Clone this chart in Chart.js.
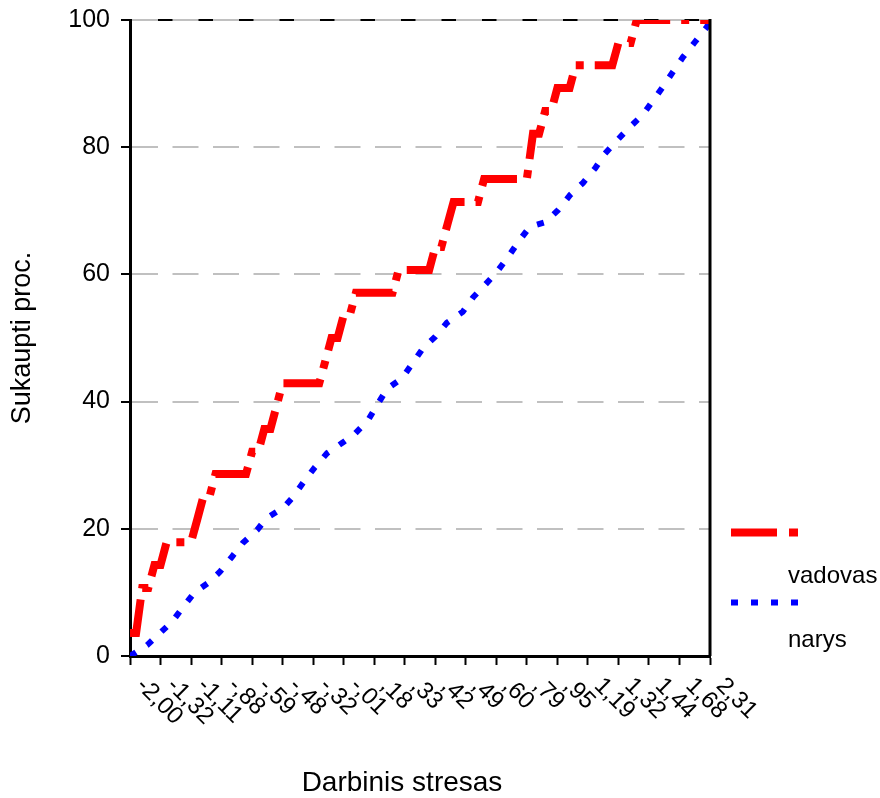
<!DOCTYPE html>
<html><head><meta charset="utf-8">
<script src="https://cdn.jsdelivr.net/npm/chart.js@4"></script>
<style>html,body{margin:0;padding:0;background:#fff}#wrap{width:880px;height:798px}</style>
</head><body><div id="wrap"><canvas id="c" width="880" height="798"></canvas></div>
<script>
// x tick labels (Darbinis stresas), one per 5 category steps
const tickLabels = ['-2,00','-1,32','-1,11','-,88','-,59','-,48','-,32','-,01',',18',',33',',42',',49',',60',',79',',95','1,19','1,32','1,44','1,68','2,31'];
const seriesNames = ['vadovas', 'narys'];
const xTitle = 'Darbinis stresas';
const yTitle = 'Sukaupti proc.';

// vadovas: cumulative percent (category position, value)
const vadovasX = [0,1,2,3,4,5,6,10,11,12,13,14,19,20,21,22,23,24,25,31,32,33,34,35,36,37,43,44,49,50,51,52,53,57,58,65,66,67,68,69,70,72,73,79,80,82,83,95];
const vadovasY = [3.6,3.6,10.7,10.7,14.3,14.3,17.9,17.9,21.4,25,25,28.6,28.6,32.1,32.1,35.7,35.7,39.3,42.9,42.9,46.4,50,50,53.6,53.6,57.1,57.1,60.7,60.7,64.3,64.3,67.9,71.4,71.4,75,75,82.1,82.1,85.7,85.7,89.3,89.3,92.9,92.9,96.4,96.4,100,100];

// narys: cumulative percent
const narysX = [0,2.8,4.9,6.9,8.7,10.6,12.8,14.7,16.7,18.5,20.8,22.4,25.1,26.7,28.7,30.3,32.3,34.9,36.9,39,40.5,42.1,44.6,46.4,48,50,51.9,54.5,56.2,58.1,60.1,61.9,63.6,65.5,68,70.1,72.1,74.2,76.2,77.8,79.8,81.9,83.9,85.5,87.3,88.9,90.6,92.5,94.5,95];
const narysY = [0,1.7,3.6,5.4,7.7,10,11.5,13.2,15.6,17.8,19.8,21.7,23.3,25,27.7,29.7,31.9,33.6,35,37.1,39.5,42,43.7,46.2,48.4,50.2,52.4,54.1,56.4,58.3,60.4,62.7,65.1,67.5,68.2,70.1,72.5,74.4,76.7,79,81.1,83.2,85,87.1,89.5,91.8,94.2,96.5,98.9,100];

const FONT = "'Liberation Sans', Arial, sans-serif";
const legendDash = [[46,12,9,12],[7,13]];

const overlay = {
  id: 'overlay',
  beforeDraw(chart) {
    const {ctx, chartArea: a} = chart;
    ctx.save();
    ctx.fillStyle = '#fff';
    ctx.fillRect(0, 0, chart.width, chart.height);
    ctx.strokeStyle = '#000';
    ctx.lineWidth = 2;
    ctx.beginPath(); ctx.moveTo(a.left, a.top); ctx.lineTo(a.right, a.top); ctx.stroke();
    ctx.restore();
  },
  afterDraw(chart) {
    const {ctx, chartArea: a} = chart;
    ctx.save();
    // right frame
    ctx.strokeStyle = '#000'; ctx.lineWidth = 3;
    ctx.beginPath(); ctx.moveTo(a.right, a.top - 1); ctx.lineTo(a.right, a.bottom); ctx.stroke();
    // rotated x tick labels
    const xs = chart.scales.x;
    ctx.fillStyle = '#000';
    ctx.font = '24px ' + FONT;
    ctx.textAlign = 'left'; ctx.textBaseline = 'middle';
    xs.ticks.forEach((t) => {
      const lbl = tickLabels[Math.round(t.value / 5)];
      if (lbl === undefined) return;
      const px = xs.getPixelForValue(t.value);
      ctx.save();
      ctx.translate(px + 10, a.bottom + 26);
      ctx.rotate(Math.PI / 4);
      ctx.fillText(lbl, 0, 0);
      ctx.restore();
    });
    // x title
    ctx.font = '28px ' + FONT;
    ctx.textAlign = 'center'; ctx.textBaseline = 'middle';
    ctx.fillText(xTitle, 402, 783);
    // legend
    const ds = chart.data.datasets;
    const rows = [{ly: 532.5, ty: 583}, {ly: 602.5, ty: 647}];
    ds.forEach((d, i) => {
      ctx.save();
      ctx.strokeStyle = d.borderColor; ctx.lineWidth = d.borderWidth;
      ctx.setLineDash(legendDash[i]); ctx.lineCap = 'butt';
      ctx.beginPath(); ctx.moveTo(731, rows[i].ly); ctx.lineTo(798, rows[i].ly); ctx.stroke();
      ctx.restore();
      ctx.font = '24px ' + FONT;
      ctx.textAlign = 'left'; ctx.textBaseline = 'alphabetic';
      ctx.fillStyle = '#000';
      ctx.fillText(d.label, 788, rows[i].ty);
    });
    ctx.restore();
  }
};

new Chart(document.getElementById('c'), {
  type: 'line',
  data: {
    datasets: [
      { label: seriesNames[0], data: vadovasX.map((x, i) => ({x, y: vadovasY[i]})),
        borderColor: '#ff0000', borderWidth: 8, borderDash: [40, 11, 8, 11], borderCapStyle: 'butt',
        pointRadius: 0, tension: 0, fill: false },
      { label: seriesNames[1], data: narysX.map((x, i) => ({x, y: narysY[i]})),
        borderColor: '#0000ff', borderWidth: 6, borderDash: [7, 13], borderCapStyle: 'butt',
        pointRadius: 0, tension: 0, fill: false }
    ]
  },
  options: {
    responsive: false, animation: false, devicePixelRatio: 1,
    layout: { padding: { top: 20, right: 170, bottom: 0, left: 0 } },
    plugins: { legend: { display: false }, tooltip: { enabled: false } },
    scales: {
      x: {
        type: 'linear', min: 0, max: 95,
        ticks: { stepSize: 5, display: false, callback: (v) => tickLabels[Math.round(v / 5)] ?? '' },
        grid: { drawOnChartArea: false, drawTicks: true, tickLength: 9, tickColor: '#000', tickWidth: 2, color: '#000' },
        border: { display: true, color: '#000', width: 3 },
        afterFit(s) { s.height = 142; s.paddingLeft = 0; s.paddingRight = 0; }
      },
      y: {
        min: 0, max: 100,
        ticks: { stepSize: 20, color: '#000', font: { family: FONT, size: 25 }, padding: 11 },
        grid: { color: (c) => (c.tick && c.tick.value === 0) ? 'rgba(0,0,0,0)' : '#c0c0c0', lineWidth: 2,
                tickColor: '#000', tickLength: 9, tickWidth: 2 },
        border: { display: true, color: '#000', width: 3, dash: [26, 14.5] },
        title: { display: true, text: yTitle, color: '#000', font: { family: FONT, size: 27 }, padding: { top: 6, bottom: 0 } },
        afterFit(s) { s.width = 130; s.paddingTop = 0; s.paddingBottom = 0; }
      }
    }
  },
  plugins: [overlay]
});
</script>
</body></html>
